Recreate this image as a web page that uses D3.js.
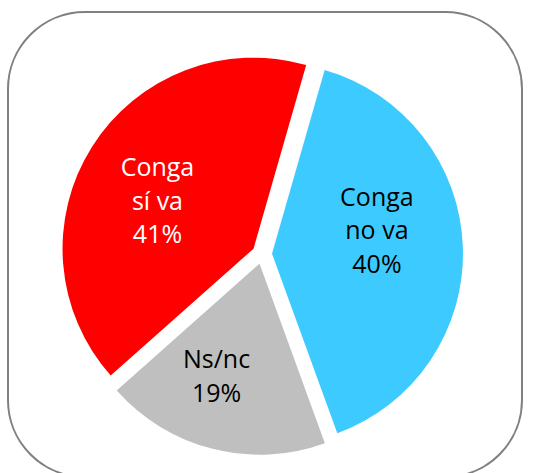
<!DOCTYPE html>
<html>
<head>
<meta charset="utf-8">
<script src="https://cdn.jsdelivr.net/npm/d3@7"></script>
<style>
  body { margin: 0; background: #fff; }
  svg { display: block; }
  .label { font-family: 'Open Sans', sans-serif; font-size: 25px; }
</style>
</head>
<body>
<svg></svg>
<script>
var categories = ['Conga no va', 'Ns/nc', 'Conga sí va'];
var values = [40, 19, 41];
var labelLines = [['Conga', 'no va', '40%'], ['Ns/nc', '19%'], ['Conga', 'sí va', '41%']];
var colors = ['#3DCBFF', '#BFBFBF', '#FF0000'];
var textColors = ['#000000', '#000000', '#FFFFFF'];

var svgWidth = 534;
var svgHeight = 473;

var center = { x: 262, y: 254 };
var radius = 191;
var explode = 10;
var labelRadius = 110;
var lineHeight = 33.5;
// small shifts so the labels sit where Excel put them
var labelNudge = [[-5, -19], [-16, 6], [-3, 11]];

var svg = d3.select('svg')
  .attr('width', svgWidth)
  .attr('height', svgHeight);

// frame
svg.append('rect')
  .attr('x', 8)
  .attr('y', 12)
  .attr('width', 514)
  .attr('height', 465)
  .attr('rx', 77)
  .attr('ry', 77)
  .style('fill', 'none')
  .style('stroke', '#808080')
  .style('stroke-width', 2);

var pie = d3.pie()
  .sort(null)
  .startAngle(16 * Math.PI / 180)
  .endAngle(16 * Math.PI / 180 + 2 * Math.PI)
  .value((d) => d);

var arcs = pie(values);

var arc = d3.arc().innerRadius(0).outerRadius(radius);
var labelArc = d3.arc().innerRadius(labelRadius).outerRadius(labelRadius);

function offset(d) {
  var a = (d.startAngle + d.endAngle) / 2;
  return [Math.sin(a) * explode, -Math.cos(a) * explode];
}

var slices = svg.append('g')
  .attr('transform', 'translate(' + center.x + ',' + center.y + ')')
  .selectAll('.slice')
  .data(arcs)
  .enter()
  .append('g')
  .classed('slice', true)
  .attr('transform', (d) => 'translate(' + offset(d)[0] + ',' + offset(d)[1] + ')');

slices.append('path')
  .attr('d', arc)
  .style('fill', (d, i) => colors[i]);

slices.each(function(d, i) {
  var c = labelArc.centroid(d);
  var x = c[0] + labelNudge[i][0];
  var y = c[1] + labelNudge[i][1];
  var lines = labelLines[i];
  var text = d3.select(this).append('text')
    .classed('label', true)
    .attr('text-anchor', 'middle')
    .style('fill', textColors[i]);
  lines.forEach(function(line, j) {
    text.append('tspan')
      .attr('x', x)
      .attr('y', y + (j - (lines.length - 1) / 2) * lineHeight + 8.5)
      .text(line);
  });
});
</script>
</body>
</html>
